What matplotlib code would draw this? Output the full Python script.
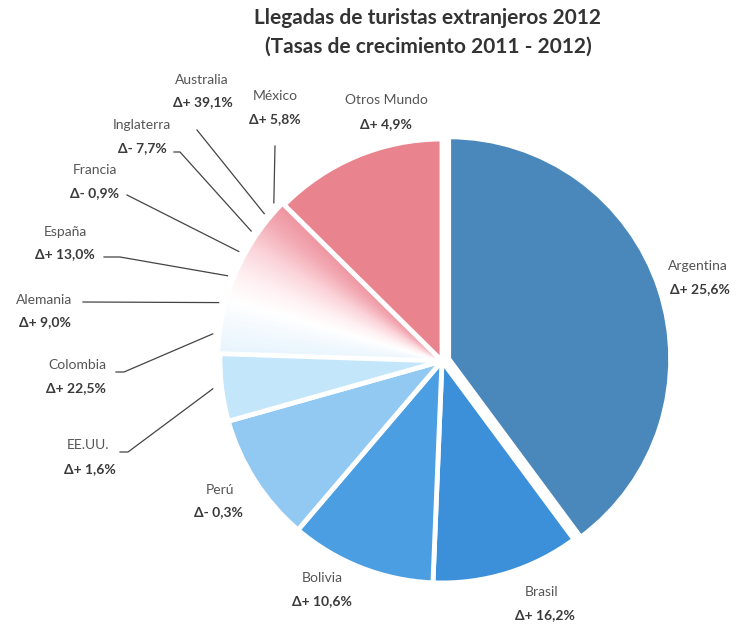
import numpy as np
import matplotlib.pyplot as plt
from matplotlib.colors import LinearSegmentedColormap
from matplotlib.path import Path

plt.rcParams['font.family'] = ['Lato', 'DejaVu Sans']

# participación (%) de cada origen y tasa de crecimiento 2011-2012
paises = ["Argentina", "Brasil", "Bolivia", "Perú", "EE.UU.", "Colombia", "Alemania",
          "España", "Francia", "Inglaterra", "Australia", "México", "Otros Mundo"]
participacion = [39.9, 10.8, 10.6, 9.4, 4.9, 2.7, 1.7, 2.2, 1.5, 1.8, 1.2, 0.8, 12.6]
crecimiento = [25.6, 16.2, 10.6, -0.3, 1.6, 22.5, 9.0, 13.0, -0.9, -7.7, 39.1, 5.8, 4.9]

colores = ['#4a88bc', '#3c90d9', '#4c9ee2', '#92c9f3', '#c4e6fb', '#eaf6fd', '#ffffff',
           '#fff3f5', '#fde1e5', '#f8c3ca', '#f2a6b0', '#ec919c', '#e9848f']

# porciones que se pintan con degradé (azul pálido -> blanco -> rosa)
degrade = ["Colombia", "Alemania", "España", "Francia", "Inglaterra", "Australia", "México"]

# posiciones de las etiquetas (nombre y variación), en píxeles desde arriba a la izquierda
pos_nombre = [(698, 266), (542, 592), (322, 578), (220, 490), (88, 445), (77, 365),
              (44, 300), (65, 232), (95, 170), (142, 125), (202, 80), (275, 96), (386, 100)]
pos_valor = [(700, 289), (545, 615), (322, 601), (218, 512), (90, 469), (76, 388),
             (45, 322), (65, 254), (95, 193), (142, 148), (203, 102), (275, 119), (386, 124)]

# inicio de las líneas guía (con codo opcional) para las porciones angostas
guias = {
    "EE.UU.": [(120, 452), (128, 452)],
    "Colombia": [(116, 372), (124, 372)],
    "Alemania": [(83, 302)],
    "España": [(104, 257), (120, 257)],
    "Francia": [(127, 195)],
    "Inglaterra": [(174, 152), (180, 152)],
    "Australia": [(197, 130)],
    "México": [(275, 146)],
}

W, H = 739, 628
centro = (442, 361)
radio = 222

fig = plt.figure(figsize=(W / 100, H / 100), dpi=100)
ax = fig.add_axes([0, 0, 1, 1])

explode = [7 if p == "Argentina" else 0 for p in paises]
wedges, _ = ax.pie(participacion, colors=colores, startangle=-90, counterclock=True,
                   center=centro, radius=radio, explode=explode,
                   wedgeprops=dict(edgecolor='white', linewidth=3.5))

# degradé angular (grados en sentido horario desde las 12) recortado a las porciones claras
grad = LinearSegmentedColormap.from_list("grad", [
    (0.0, '#e4f3fd'), (0.25, '#f7fbff'), (0.35, '#ffffff'), (0.5, '#fff1f3'),
    (0.68, '#fbd3d9'), (0.85, '#f3a9b3'), (1.0, '#ec8e9a')])
a0, a1 = 270.0, 316.0
xx, yy = np.meshgrid(np.arange(0, W, 1.0), np.arange(0, H, 1.0))
ang = np.degrees(np.arctan2(xx - centro[0], -(yy - centro[1]))) % 360
val = np.clip((ang - a0) / (a1 - a0), 0, 1)

claras = [w for w, p in zip(wedges, paises) if p in degrade]
for w in claras:
    w.set_visible(False)
zona = Path.make_compound_path(*[w.get_path() for w in claras])
im = ax.imshow(val, cmap=grad, vmin=0, vmax=1, extent=(0, W, H, 0),
               interpolation='bilinear', zorder=0.9)
im.set_clip_path(zona, ax.transData)

ax.set_xlim(0, W)
ax.set_ylim(H, 0)
ax.set_aspect('auto')
ax.axis('off')

for w, p, g, pn, pv in zip(wedges, paises, crecimiento, pos_nombre, pos_valor):
    signo = '+' if g >= 0 else '-'
    valor = f"Δ{signo} {abs(g):.1f}%".replace('.', ',')
    ax.text(pn[0], pn[1], p, ha='center', va='center', fontsize=10, color='#555555')
    ax.text(pv[0], pv[1], valor, ha='center', va='center', fontsize=10,
            fontweight='bold', color='#3a3a3a')
    if p in guias:
        a = np.deg2rad((w.theta1 + w.theta2) / 2)
        fin = (centro[0] + 1.04 * radio * np.cos(a), centro[1] + 1.04 * radio * np.sin(a))
        pts = guias[p] + [fin]
        xs, ys = zip(*pts)
        ax.plot(xs, ys, color='#444444', lw=0.9)

ax.text(428, 18, "Llegadas de turistas extranjeros 2012", ha='center', va='center',
        fontsize=15, fontweight='bold', color='#333333')
ax.text(428, 47, "(Tasas de crecimiento 2011 - 2012)", ha='center', va='center',
        fontsize=15, fontweight='bold', color='#333333')

fig.savefig("out.png", dpi=100)
